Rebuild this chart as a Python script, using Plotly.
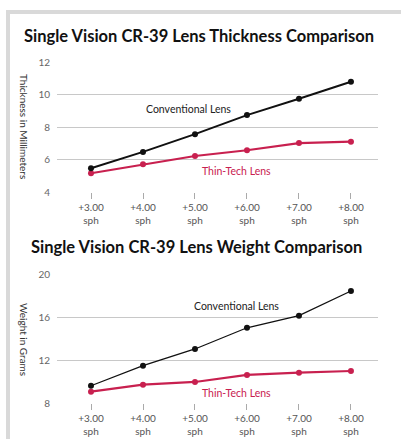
import plotly.graph_objects as go

W, H = 401, 439

categories = ["+3.00<br>sph", "+4.00<br>sph", "+5.00<br>sph", "+6.00<br>sph", "+7.00<br>sph", "+8.00<br>sph"]

thick_conventional = [5.48, 6.48, 7.57, 8.74, 9.74, 10.79]
thick_thintech = [5.17, 5.72, 6.23, 6.58, 7.02, 7.11]

weight_conventional = [9.63, 11.49, 13.04, 15.01, 16.13, 18.42]
weight_thintech = [9.08, 9.73, 9.98, 10.63, 10.84, 11.0]

thick_ticks = [4, 6, 8, 10, 12]
weight_ticks = [8, 12, 16, 20]

BLACK = "#111111"
RED = "#c8204f"
GRID = "#c8c8c8"
FONT = "Lato"

def py(y):
    return 1 - y / H

def px(x):
    return x / W

fig = go.Figure()

# thickness chart
fig.add_trace(go.Scatter(x=categories, y=thick_thintech, mode="lines+markers",
                         line=dict(color=RED, width=2.2), marker=dict(color=RED, size=6),
                         xaxis="x", yaxis="y", showlegend=False))
fig.add_trace(go.Scatter(x=categories, y=thick_conventional, mode="lines+markers",
                         line=dict(color=BLACK, width=2), marker=dict(color=BLACK, size=6),
                         xaxis="x", yaxis="y", showlegend=False))
# weight chart
fig.add_trace(go.Scatter(x=categories, y=weight_thintech, mode="lines+markers",
                         line=dict(color=RED, width=2.2), marker=dict(color=RED, size=6),
                         xaxis="x2", yaxis="y2", showlegend=False))
fig.add_trace(go.Scatter(x=categories, y=weight_conventional, mode="lines+markers",
                         line=dict(color=BLACK, width=1.3), marker=dict(color=BLACK, size=6),
                         xaxis="x2", yaxis="y2", showlegend=False))

xdom = [px(57), px(378)]
xrange = [-0.654, 5.52]

common_x = dict(type="category", range=xrange, domain=xdom, showgrid=False,
                showline=False, zeroline=False, automargin=False,
                ticks="outside", ticklen=6, tickcolor="#aaaaaa", tickwidth=1,
                tickfont=dict(family=FONT, size=10, color="#555555"))
common_y = dict(showgrid=True, gridcolor=GRID, gridwidth=1.3, zeroline=False,
                showline=False, ticks="", ticklabelstandoff=6, automargin=False,
                tickfont=dict(family=FONT, size=10, color="#666666"))

fig.update_layout(
    width=W, height=H,
    margin=dict(l=0, r=0, t=0, b=0, autoexpand=False),
    paper_bgcolor="white", plot_bgcolor="white",
    xaxis=dict(anchor="y", **common_x),
    yaxis=dict(anchor="x", domain=[py(192.3), py(62)], range=[4, 12],
               tickvals=thick_ticks, **common_y),
    xaxis2=dict(anchor="y2", **common_x),
    yaxis2=dict(anchor="x2", domain=[py(403.3), py(274)], range=[8, 20],
                tickvals=weight_ticks, **common_y),
)

# Frame (light gray band on top and left)
fig.add_shape(type="rect", xref="paper", yref="paper", x0=px(6), x1=1.0, y0=py(14), y1=py(10),
              fillcolor="#d9d9d9", line=dict(width=0), layer="above")
fig.add_shape(type="rect", xref="paper", yref="paper", x0=px(6), x1=px(10), y0=0, y1=py(10),
              fillcolor="#d9d9d9", line=dict(width=0), layer="above")

# Titles
fig.add_annotation(text="Single Vision CR-39 Lens Thickness Comparison", xref="paper", yref="paper",
                   x=px(22), y=py(36), xanchor="left", yanchor="middle", showarrow=False,
                   font=dict(family=FONT, size=16.5, color="#111111", weight="bold"))
fig.add_annotation(text="Single Vision CR-39 Lens Weight Comparison", xref="paper", yref="paper",
                   x=px(29), y=py(247), xanchor="left", yanchor="middle", showarrow=False,
                   font=dict(family=FONT, size=16.5, color="#111111", weight="bold"))

# Axis titles
fig.add_annotation(text="Thickness in Millimeters", xref="paper", yref="paper",
                   x=px(24), y=py(126), xanchor="center", yanchor="middle", textangle=90,
                   showarrow=False, font=dict(family=FONT, size=10, color="#333333"))
fig.add_annotation(text="Weight in Grams", xref="paper", yref="paper",
                   x=px(24), y=py(339), xanchor="center", yanchor="middle", textangle=90,
                   showarrow=False, font=dict(family=FONT, size=10, color="#333333"))

# Series labels
fig.add_annotation(text="Conventional Lens", xref="x", yref="y", x=1.88, y=9.13, showarrow=False,
                   xanchor="center", yanchor="middle",
                   font=dict(family=FONT, size=10.5, color="#222222"))
fig.add_annotation(text="Thin-Tech Lens", xref="x", yref="y", x=2.79, y=5.31, showarrow=False,
                   xanchor="center", yanchor="middle",
                   font=dict(family=FONT, size=10.5, color=RED))
fig.add_annotation(text="Conventional Lens", xref="x2", yref="y2", x=2.79, y=17.03, showarrow=False,
                   xanchor="center", yanchor="middle",
                   font=dict(family=FONT, size=10.5, color="#222222"))
fig.add_annotation(text="Thin-Tech Lens", xref="x2", yref="y2", x=2.79, y=8.96, showarrow=False,
                   xanchor="center", yanchor="middle",
                   font=dict(family=FONT, size=10.5, color=RED))

fig.write_html("out.html", config={"displayModeBar": False},
               post_script="document.body.style.margin='0';document.body.style.overflow='hidden';")
